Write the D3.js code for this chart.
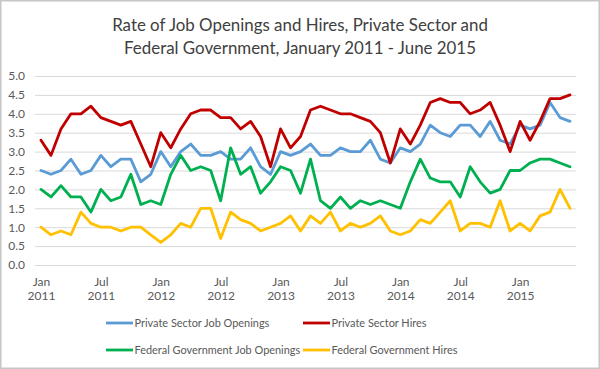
<!DOCTYPE html>
<html><head><meta charset="utf-8">
<script src="https://cdn.jsdelivr.net/npm/d3@7"></script>
<style>body{margin:0;background:#fff}svg{display:block}text{font-family:Lato,"Open Sans",sans-serif}</style>
</head><body>
<svg id="chart" width="600" height="369"></svg>
<script>
const months = [
 "2011-01","2011-02","2011-03","2011-04","2011-05","2011-06","2011-07","2011-08","2011-09","2011-10","2011-11","2011-12",
 "2012-01","2012-02","2012-03","2012-04","2012-05","2012-06","2012-07","2012-08","2012-09","2012-10","2012-11","2012-12",
 "2013-01","2013-02","2013-03","2013-04","2013-05","2013-06","2013-07","2013-08","2013-09","2013-10","2013-11","2013-12",
 "2014-01","2014-02","2014-03","2014-04","2014-05","2014-06","2014-07","2014-08","2014-09","2014-10","2014-11","2014-12",
 "2015-01","2015-02","2015-03","2015-04","2015-05","2015-06"];

const privateOpenings = [2.5,2.4,2.5,2.8,2.4,2.5,2.9,2.6,2.8,2.8,2.2,2.4,
 3.0,2.6,3.0,3.2,2.9,2.9,3.0,2.8,2.8,3.1,2.6,2.4,
 3.0,2.9,3.0,3.2,2.9,2.9,3.1,3.0,3.0,3.3,2.8,2.7,
 3.1,3.0,3.2,3.7,3.5,3.4,3.7,3.7,3.4,3.8,3.3,3.2,
 3.7,3.6,3.7,4.3,3.9,3.8];
const privateHires = [3.3,2.9,3.6,4.0,4.0,4.2,3.9,3.8,3.7,3.8,3.2,2.6,
 3.5,3.1,3.6,4.0,4.1,4.1,3.9,3.9,3.6,3.8,3.4,2.6,
 3.6,3.1,3.4,4.1,4.2,4.1,4.0,4.0,3.9,3.8,3.5,2.7,
 3.6,3.2,3.7,4.3,4.4,4.3,4.3,4.0,4.1,4.3,3.7,3.0,
 3.8,3.3,3.8,4.4,4.4,4.5];
const fedOpenings = [2.0,1.8,2.1,1.8,1.8,1.4,2.0,1.7,1.8,2.4,1.6,1.7,
 1.6,2.4,2.9,2.5,2.6,2.5,1.7,3.1,2.4,2.6,1.9,2.2,
 2.6,2.5,1.9,2.8,1.7,1.5,1.8,1.5,1.7,1.6,1.7,1.6,
 1.5,2.2,2.8,2.3,2.2,2.2,1.8,2.6,2.2,1.9,2.0,2.5,
 2.5,2.7,2.8,2.8,2.7,2.6];
const fedHires = [1.0,0.8,0.9,0.8,1.4,1.1,1.0,1.0,0.9,1.0,1.0,0.8,
 0.6,0.8,1.1,1.0,1.5,1.5,0.7,1.4,1.2,1.1,0.9,1.0,
 1.1,1.3,0.9,1.3,1.1,1.4,0.9,1.1,1.0,1.1,1.3,0.9,
 0.8,0.9,1.2,1.1,1.4,1.7,0.9,1.1,1.1,1.0,1.7,0.9,
 1.1,0.9,1.3,1.4,2.0,1.5];

const seriesNames = ["Private Sector Job Openings","Private Sector Hires","Federal Government Job Openings","Federal Government Hires"];
const seriesColors = ["#5B9BD5","#C00000","#00B050","#FFC000"];
const seriesValues = [privateOpenings, privateHires, fedOpenings, fedHires];

const tickMonths = ["2011-01","2011-07","2012-01","2012-07","2013-01","2013-07","2014-01","2014-07","2015-01"];
const tickLabels = [["Jan","2011"],["Jul","2011"],["Jan","2012"],["Jul","2012"],["Jan","2013"],["Jul","2013"],["Jan","2014"],["Jul","2014"],["Jan","2015"]];
const yTicks = [0,0.5,1,1.5,2,2.5,3,3.5,4,4.5,5];
const titleLines = ["Rate of Job Openings and Hires, Private Sector and","Federal Government, January 2011 - June 2015"];

const svg = d3.select("#chart");
const W = 600, H = 369;
svg.append("rect").attr("x",0.75).attr("y",0.75).attr("width",W-1.5).attr("height",H-1.5)
  .attr("fill","#fff").attr("stroke","#c6c6c6").attr("stroke-width",1.5);

const gridLeft = 35, gridRight = 576;
const x = d3.scalePoint().domain(months).range([41, 570]);
const y = d3.scaleLinear().domain([0,5]).range([265, 76]);

function fitSize(sel, target) {
  const base = 20;
  sel.attr("font-size", base);
  const w = sel.node().getComputedTextLength();
  return base * target / w;
}

// title
const t1 = svg.append("text").attr("x",300).attr("y",31).attr("text-anchor","middle").attr("fill","#404040").text(titleLines[0]);
const ts = fitSize(t1, 376);
t1.attr("font-size", ts);
svg.append("text").attr("x",300).attr("y",53.5).attr("text-anchor","middle").attr("fill","#404040")
  .attr("font-size", ts).text(titleLines[1]);

// y axis + grid
const yAxis = d3.axisLeft(y).tickValues(yTicks).tickFormat(d3.format(".1f"))
  .tickSize(-(gridRight-gridLeft)).tickPadding(10);
const gy = svg.append("g").attr("transform",`translate(${gridLeft},0)`).call(yAxis);
gy.select(".domain").remove();
gy.selectAll(".tick line").attr("stroke","#d9d9d9").attr("stroke-width",1);
gy.selectAll(".tick text").attr("fill","#595959").attr("font-family","Lato").attr("font-size",12);

// x axis labels
const xAxis = d3.axisBottom(x).tickValues(tickMonths).tickSize(0).tickFormat("");
const gx = svg.append("g").attr("transform",`translate(0,${y(0)})`).call(xAxis);
gx.select(".domain").remove();
gx.selectAll(".tick").each(function(d,i){
  const g = d3.select(this);
  g.select("text").remove();
  const tx = g.append("text").attr("text-anchor","middle").attr("fill","#595959")
    .attr("font-family","Lato").attr("font-size",12);
  tx.append("tspan").attr("x",0).attr("y",21).text(tickLabels[i][0]);
  tx.append("tspan").attr("x",0).attr("y",34.5).text(tickLabels[i][1]);
});

// lines
const line = d3.line().x((d,i)=>x(months[i])).y(d=>y(d));
seriesValues.forEach((vals,k)=>{
  svg.append("path").datum(vals).attr("d",line).attr("fill","none")
    .attr("stroke",seriesColors[k]).attr("stroke-width",2.8)
    .attr("stroke-linejoin","round").attr("stroke-linecap","round");
});

// legend
const legPos = [[106,323],[303,323],[106,350],[303,350]];
const probe = svg.append("text").text(seriesNames[2]);
const legSize = fitSize(probe, 166);
probe.remove();
seriesNames.forEach((name,k)=>{
  const [lx,ly] = legPos[k];
  svg.append("line").attr("x1",lx).attr("x2",lx+27).attr("y1",ly).attr("y2",ly)
    .attr("stroke",seriesColors[k]).attr("stroke-width",2.8);
  svg.append("text").attr("x",lx+28.5).attr("y",ly+4).attr("fill","#595959")
    .attr("font-size",legSize).text(name);
});
</script>
</body></html>
